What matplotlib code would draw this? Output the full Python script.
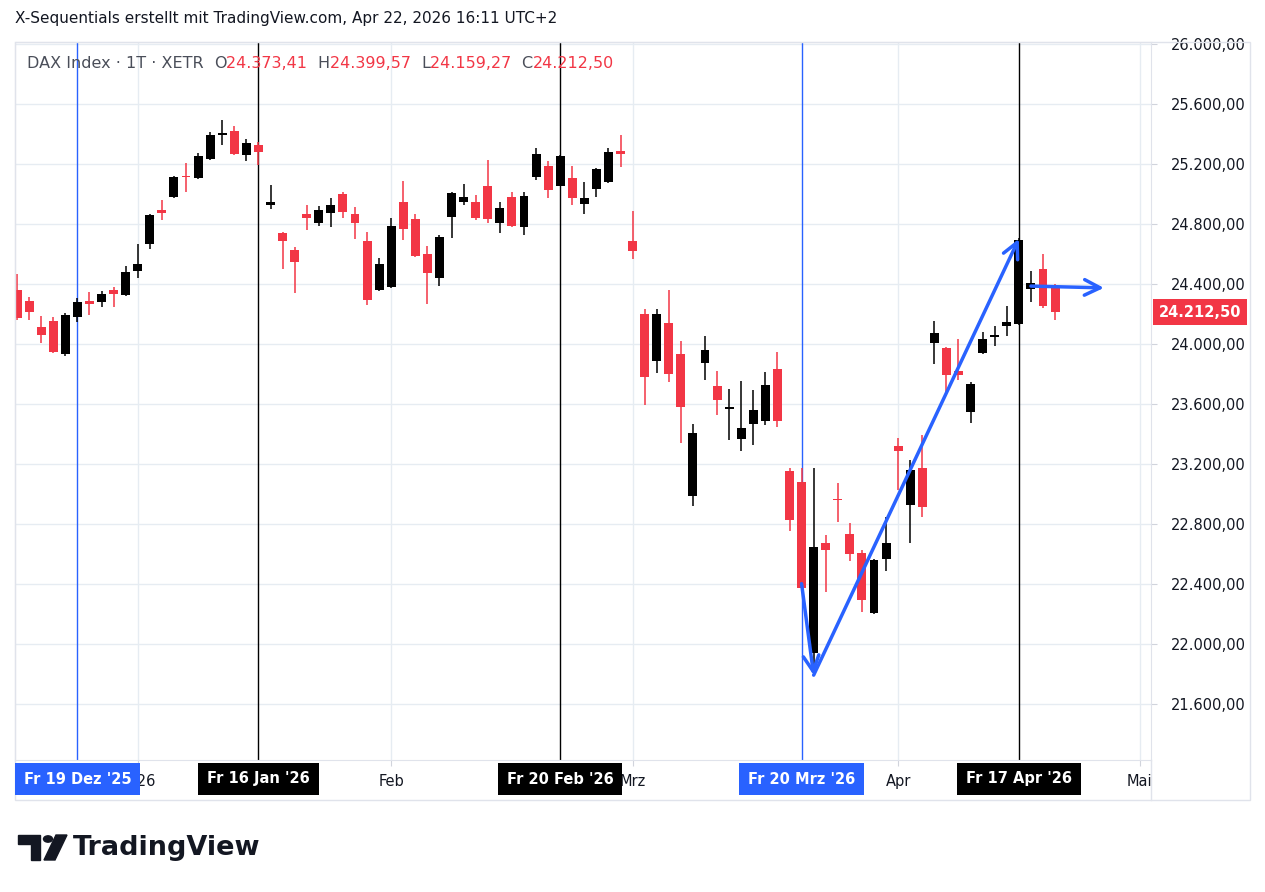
import matplotlib
matplotlib.use("Agg")
import matplotlib.pyplot as plt
from matplotlib.patches import Rectangle, Polygon, Circle
from matplotlib.ticker import FuncFormatter

# daily OHLC (DAX, 12 Dec 2025 .. 22 Apr 2026)
opens = [24359, 24286, 24112, 24152, 23932, 24179, 24286, 24279, 24359, 24326,
         24486, 24666, 24893, 24980, 25120, 25106, 25233, 25393, 25420, 25260,
         25326, 24926, 24739, 24626, 24866, 24806, 24873, 25000, 24866, 24686,
         24359, 24379, 24946, 24833, 24599, 24439, 24846, 24946, 24946, 25053,
         24806, 24980, 24779, 25113, 25186, 25053, 25106, 24933, 25033, 25080,
         25286, 24686, 24199, 23886, 24139, 23932, 22985, 23872, 23719, 23565,
         23365, 23465, 23485, 23832, 23152, 23079, 21938, 22672, 22968, 22732,
         22605, 22205, 22565, 23319, 22925, 23172, 24006, 23972, 23819, 23545,
         23939, 24045, 24119, 24132, 24366, 24499, 24373]
highs = [24466, 24312, 24186, 24179, 24206, 24306, 24346, 24353, 24379, 24519,
         24666, 24866, 24959, 25120, 25206, 25273, 25413, 25493, 25453, 25366,
         25346, 25060, 24746, 24646, 24926, 24919, 24973, 25013, 24913, 24746,
         24573, 24839, 25086, 24866, 24653, 24726, 25010, 25066, 24993, 25226,
         24946, 25013, 25013, 25306, 25220, 25260, 25186, 25080, 25173, 25306,
         25393, 24886, 24232, 24232, 24359, 24019, 23465, 24052, 23819, 23699,
         23752, 23692, 23812, 23946, 23172, 23172, 23172, 22725, 23072, 22805,
         22625, 22565, 22845, 23372, 23225, 23392, 24152, 23979, 24032, 23746,
         24079, 24119, 24253, 24706, 24486, 24599, 24400]
lows = [24160, 24159, 24006, 23939, 23919, 24146, 24192, 24246, 24246, 24319,
        24439, 24633, 24826, 24973, 25013, 25100, 25226, 25326, 25260, 25220,
        25193, 24900, 24499, 24339, 24759, 24786, 24779, 24839, 24699, 24259,
        24350, 24370, 24693, 24580, 24266, 24386, 24706, 24926, 24826, 24806,
        24739, 24780, 24726, 25093, 24973, 25050, 24926, 24866, 24980, 25075,
        25180, 24566, 23592, 23806, 23746, 23339, 22918, 23759, 23525, 23359,
        23285, 23325, 23459, 23445, 22752, 22365, 21858, 22345, 22812, 22552,
        22211, 22200, 22485, 23025, 22672, 22845, 23866, 23672, 23759, 23472,
        23932, 23986, 24052, 24125, 24279, 24239, 24159]
closes = [24172, 24212, 24059, 23946, 24192, 24279, 24266, 24333, 24333, 24479,
          24533, 24859, 24873, 25113, 25113, 25253, 25393, 25406, 25266, 25340,
          25280, 24946, 24686, 24546, 24839, 24893, 24926, 24880, 24806, 24292,
          24533, 24786, 24766, 24586, 24473, 24713, 25006, 24980, 24839, 24833,
          24906, 24786, 24986, 25266, 25026, 25253, 24973, 24973, 25166, 25280,
          25266, 24619, 23779, 24199, 23799, 23579, 23405, 23959, 23625, 23579,
          23439, 23559, 23726, 23485, 22825, 22372, 22645, 22625, 22955, 22598,
          22292, 22558, 22672, 23285, 23159, 22912, 24072, 23792, 23792, 23732,
          24032, 24059, 24146, 24693, 24406, 24253, 24212]

price_ticks = [21600, 22000, 22400, 22800, 23200, 23600, 24000, 24400, 24800, 25200, 25600, 26000]
month_idx = [10, 31, 51, 73, 93]
month_labels = ["2026", "Feb", "Mrz", "Apr", "Mai"]
marker_idx = [5, 20, 45, 65, 83]
marker_labels = ["Fr 19 Dez '25", "Fr 16 Jan '26", "Fr 20 Feb '26", "Fr 20 Mrz '26", "Fr 17 Apr '26"]
marker_blue = [True, False, False, True, False]

RED = "#f23645"
BLUE = "#2962ff"
GRID = "#e6ecf2"
W, H = 1265, 892

fig = plt.figure(figsize=(W / 100, H / 100), dpi=100)

def fx(px):
    return px / W

def fy(py):
    return 1 - py / H

ax = fig.add_axes([fx(15), fy(760), fx(1151) - fx(15), fy(42) - fy(760)])
ax.set_xlim(-0.17, 93.95)
ax.set_ylim(21224, 26013)

for i, (o, h, l, c) in enumerate(zip(opens, highs, lows, closes)):
    col = "black" if c >= o else RED
    ax.vlines(i, l, h, color=col, lw=1.1, zorder=3)
    ax.add_patch(Rectangle((i - 0.37, min(o, c)), 0.74, max(abs(c - o), 8),
                           color=col, lw=0, zorder=4))

# grid
for p in price_ticks:
    ax.axhline(p, color=GRID, lw=1, zorder=0)
for m in month_idx:
    ax.axvline(m, color=GRID, lw=1, zorder=0)
for m, b in zip(marker_idx, marker_blue):
    ax.axvline(m, color=BLUE if b else "black", lw=1, zorder=2)

# drawn arrows
arr = dict(arrowstyle="->", color=BLUE, lw=2.5, mutation_scale=28, shrinkA=0, shrinkB=0)
ax.annotate("", xy=(66, 21790), xytext=(65, 22400), arrowprops=arr, zorder=6)
ax.annotate("", xy=(83, 24700), xytext=(66, 21790), arrowprops=arr, zorder=6)
ax.annotate("", xy=(90.05, 24373), xytext=(84, 24385), arrowprops=arr, zorder=6)

ax.yaxis.tick_right()
ax.set_yticks(price_ticks)
ax.yaxis.set_major_formatter(FuncFormatter(
    lambda v, _: f"{v:,.2f}".replace(",", "X").replace(".", ",").replace("X", ".")))
ax.tick_params(axis="y", length=4, color="#d1d4dc", pad=10, labelsize=10.5, labelcolor="#131722")
ax.set_xticks(month_idx)
ax.set_xticklabels(month_labels)
ax.tick_params(axis="x", length=4, color="#d1d4dc", pad=6, labelsize=10.5, labelcolor="#131722")
for s in ax.spines.values():
    s.set_color("#e0e3eb")

# outer frame around price / time scales
frame = Rectangle((fx(15), fy(800)), fx(1250) - fx(15), fy(42) - fy(800),
                  transform=fig.transFigure, fill=False, ec="#e0e3eb", lw=1)
fig.add_artist(frame)
fig.add_artist(plt.Line2D([fx(1151)] * 2, [fy(760), fy(800)], color="#e0e3eb", lw=1))

# date badges
for m, lab, b in zip(marker_idx, marker_labels, marker_blue):
    cx = ax.transData.transform((m, 0))[0] / W
    fig.text(cx, fy(779), lab, ha="center", va="center", color="white", fontsize=10.5,
             fontweight="bold", zorder=10,
             bbox=dict(boxstyle="square,pad=0.6", fc=BLUE if b else "black", ec="none"))

# last price tag
last_y = ax.transData.transform((0, closes[-1]))[1] / H
fig.text(fx(1200), last_y, "24.212,50", ha="center", va="center", color="white",
         fontsize=10.5, fontweight="bold",
         bbox=dict(boxstyle="square,pad=0.4", fc=RED, ec="none"))

# header texts
fig.text(fx(15), fy(18), "X-Sequentials erstellt mit TradingView.com, Apr 22, 2026 16:11 UTC+2",
         fontsize=11, va="center", color="#131722")
x0 = 27
parts = [("DAX Index · 1T · XETR  ", "#4a4e59"), ("O", "#4a4e59"), ("24.373,41  ", RED),
         ("H", "#4a4e59"), ("24.399,57  ", RED), ("L", "#4a4e59"), ("24.159,27  ", RED),
         ("C", "#4a4e59"), ("24.212,50", RED)]
renderer = fig.canvas.get_renderer()
for txt, col in parts:
    t = fig.text(fx(x0), fy(64), txt, fontsize=11.5, va="center", color=col)
    x0 += t.get_window_extent(renderer).width

# TradingView logo
fig.add_artist(Polygon([[fx(18), fy(835)], [fx(40), fy(835)], [fx(40), fy(860)],
                        [fx(31), fy(860)], [fx(31), fy(844)], [fx(18), fy(844)]],
                       closed=True, transform=fig.transFigure, color="#131722"))
fig.add_artist(Circle((fx(48), fy(839)), 4.5 / W, transform=fig.transFigure, color="#131722"))
fig.add_artist(Polygon([[fx(56), fy(835)], [fx(67), fy(835)], [fx(55), fy(860)], [fx(44), fy(860)]],
                       closed=True, transform=fig.transFigure, color="#131722"))
fig.text(fx(73), fy(848), "TradingView", fontsize=19.5, fontweight="bold", va="center",
         color="#131722")

fig.savefig("out.png", dpi=100)
